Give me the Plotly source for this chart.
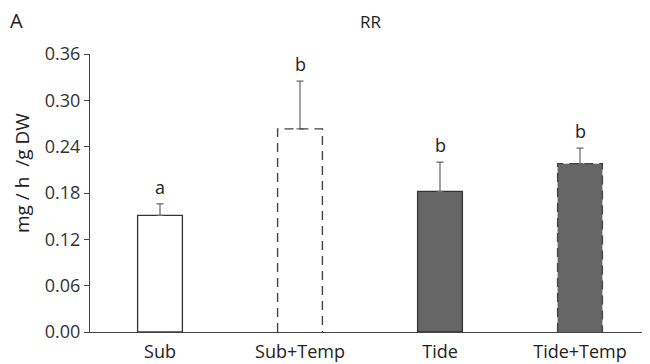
import plotly.graph_objects as go

categories = ["Sub", "Sub+Temp", "Tide", "Tide+Temp"]
means = [0.151, 0.263, 0.182, 0.218]
errors = [0.015, 0.062, 0.038, 0.020]
letters = ["a", "b", "b", "b"]
y_ticks = [0.00, 0.06, 0.12, 0.18, 0.24, 0.30, 0.36]

fills = ["#ffffff", "#ffffff", "#666666", "#666666"]
dashed = [False, True, False, True]
BAR_W = 0.32
FONT = "Open Sans, Noto Sans, sans-serif"

x = list(range(len(categories)))
fig = go.Figure()

fig.add_trace(go.Bar(
    x=x, y=means, width=BAR_W,
    marker=dict(color=fills,
                line=dict(color=["#333333" if not d else "rgba(0,0,0,0)" for d in dashed], width=1.3)),
    error_y=dict(type="data", array=errors, symmetric=False, arrayminus=[0]*4,
                 color="#666666", thickness=1.2, width=3.5),
    showlegend=False, hoverinfo="skip",
))

for i, (m, d) in enumerate(zip(means, dashed)):
    if d:
        xl, xr = i - BAR_W / 2, i + BAR_W / 2
        fig.add_trace(go.Scatter(
            x=[xl, xl, xr, xr], y=[0, m, m, 0], mode="lines",
            line=dict(color="#444444", width=1.4, dash="9px,6px"),
            showlegend=False, hoverinfo="skip",
        ))

letter_annotations = [
    dict(text=t, x=i, y=m + e, xref="x", yref="y", xanchor="center", yanchor="bottom",
         yshift=3, showarrow=False, font=dict(family=FONT, size=18, color="#222222"))
    for i, (t, m, e) in enumerate(zip(letters, means, errors))
]

# page has an 8px body margin; offsets compensate
fig.update_layout(
    width=650, height=364,
    margin=dict(l=82, r=8, t=46, b=40),
    plot_bgcolor="white", paper_bgcolor="white",
    font=dict(family=FONT, color="#333333"),
    xaxis=dict(range=[-0.5, 3.5], tickvals=x, ticktext=categories,
               showline=True, linecolor="#444444", linewidth=1.3,
               ticks="", showgrid=False, zeroline=False, ticklabelstandoff=3,
               tickfont=dict(family=FONT, size=18, color="#222222")),
    yaxis=dict(range=[0, 0.36], tickvals=y_ticks, ticktext=[f"{v:.2f}" for v in y_ticks],
               showline=True, linecolor="#444444", linewidth=1.3,
               ticks="outside", ticklen=5, tickcolor="#444444",
               showgrid=False, zeroline=False,
               tickfont=dict(family=FONT, size=18, color="#333333")),
    annotations=letter_annotations + [
        dict(text="mg / h \u00a0/g DW", textangle=-90, xref="paper", yref="paper",
             x=(14 - 82) / 560, y=1 - (165 - 46) / 278, xanchor="center", yanchor="middle",
             showarrow=False, font=dict(family=FONT, size=19, color="#222222")),
        dict(text="RR", xref="paper", yref="paper", x=0.5, y=1 + 33/278,
             xanchor="center", yanchor="middle", showarrow=False,
             font=dict(family=FONT, size=17, color="#222222")),
        dict(text="A", xref="paper", yref="paper", x=-82/560, y=1 + 34/278,
             xanchor="left", yanchor="middle", showarrow=False,
             font=dict(family=FONT, size=20, color="#222222")),
    ],
)

fig.write_html("out.html")
